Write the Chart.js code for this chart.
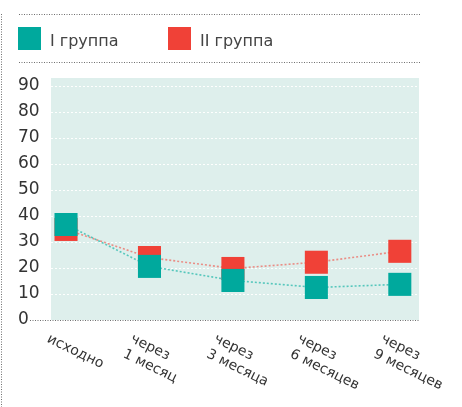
<!DOCTYPE html>
<html>
<head>
<meta charset="utf-8">
<script src="https://cdn.jsdelivr.net/npm/chart.js@4"></script>
<style>
  html, body { margin: 0; padding: 0; background: #fff; }
  #wrap { width: 462px; height: 407px; position: relative; }
</style>
</head>
<body>
<div id="wrap"><canvas id="c" width="462" height="407"></canvas></div>
<script>
const categories = [["исходно"], ["через", "1 месяц"], ["через", "3 месяца"], ["через", "6 месяцев"], ["через", "9 месяцев"]];
const seriesNames = ["I группа", "II группа"];
const group1 = [36.7, 20.6, 15.2, 12.5, 13.7];
const group2 = [34.8, 24.0, 19.8, 22.2, 26.4];
const yTicks = [0, 10, 20, 30, 40, 50, 60, 70, 80, 90];

const markerColors = ["#00a99d", "#f04137"];
const lineColors = ["rgba(40,185,172,0.75)", "rgba(240,100,90,0.7)"];
const FONT = "'DejaVu Sans', 'Liberation Sans', sans-serif";

const decor = {
  id: 'decor',
  beforeDraw(chart) {
    const ctx = chart.ctx, a = chart.chartArea;
    ctx.save();
    ctx.fillStyle = '#deefec';
    ctx.fillRect(a.left, a.top, a.right - a.left, a.bottom - a.top);
    ctx.restore();
  },
  beforeDatasetsDraw(chart) {
    const ctx = chart.ctx, a = chart.chartArea, ys = chart.scales.y;
    ctx.save();
    ctx.strokeStyle = 'rgba(255,255,255,0.95)';
    ctx.lineWidth = 1;
    ctx.setLineDash([2, 2]);
    ctx.beginPath();
    yTicks.forEach(v => {
      if (v === 0) return;
      const y = Math.round(ys.getPixelForValue(v)) + 0.5;
      ctx.moveTo(a.left, y); ctx.lineTo(a.right, y);
    });
    ctx.stroke();
    ctx.restore();
  },
  afterDraw(chart) {
    const ctx = chart.ctx, a = chart.chartArea;
    ctx.save();
    ctx.strokeStyle = '#6f6f6f';
    ctx.lineWidth = 1;
    ctx.setLineDash([1, 1.5]);
    ctx.beginPath();
    ctx.moveTo(19, 14.5); ctx.lineTo(421, 14.5);
    ctx.moveTo(19, 62.5); ctx.lineTo(421, 62.5);
    ctx.moveTo(30, Math.round(a.bottom) + 0.5); ctx.lineTo(a.right, Math.round(a.bottom) + 0.5);
    ctx.moveTo(1.5, 14); ctx.lineTo(1.5, 407);
    ctx.stroke();
    ctx.setLineDash([]);

    // legend
    const lx = [18, 168];
    ctx.font = "16px " + FONT;
    ctx.textBaseline = 'middle';
    ctx.textAlign = 'left';
    chart.data.datasets.forEach((ds, i) => {
      ctx.fillStyle = ds.pointBackgroundColor;
      ctx.fillRect(lx[i], 27, 23, 23);
      ctx.fillStyle = '#444';
      ctx.fillText(ds.label, lx[i] + 32, 42);
    });

    // x labels (rotated clockwise)
    const xs = chart.scales.x;
    ctx.font = "14px " + FONT;
    ctx.fillStyle = '#333';
    ctx.textBaseline = 'top';
    const ang = 26 * Math.PI / 180;
    categories.forEach((lines, i) => {
      const px = xs.getPixelForValue(i);
      ctx.save();
      ctx.translate(px - 15, a.bottom + 12);
      ctx.rotate(ang);
      lines.forEach((t, j) => ctx.fillText(t, 0, j * 17));
      ctx.restore();
    });
    ctx.restore();
  }
};

new Chart(document.getElementById('c'), {
  type: 'line',
  data: {
    datasets: [
      {
        label: seriesNames[0],
        data: group1.map((v, i) => ({x: i, y: v})),
        borderColor: lineColors[0],
        borderWidth: 1.6,
        borderDash: [2, 2],
        pointStyle: 'rect',
        pointRadius: 16.3,
        pointBorderWidth: 0,
        pointBackgroundColor: markerColors[0],
        tension: 0
      },
      {
        label: seriesNames[1],
        data: group2.map((v, i) => ({x: i, y: v})),
        borderColor: lineColors[1],
        borderWidth: 1.6,
        borderDash: [2, 2],
        pointStyle: 'rect',
        pointRadius: 16.3,
        pointBorderWidth: 0,
        pointBackgroundColor: markerColors[1],
        tension: 0
      }
    ]
  },
  options: {
    responsive: false,
    animation: false,
    events: [],
    layout: { padding: { left: 18, right: 43, top: 78, bottom: 79 } },
    plugins: { legend: { display: false }, tooltip: { enabled: false } },
    scales: {
      x: {
        type: 'linear',
        min: -0.18,
        max: 4.23,
        ticks: { display: false },
        grid: { display: false },
        border: { display: false }
      },
      y: {
        min: 0,
        max: 93,
        afterBuildTicks(scale) { scale.ticks = yTicks.map(v => ({value: v})); },
        afterFit(scale) { scale.width = 33; },
        ticks: {
          crossAlign: 'far',
          padding: 4,
          color: '#333',
          font: { family: FONT, size: 17 }
        },
        grid: { display: false, drawTicks: false },
        border: { display: false }
      }
    }
  },
  plugins: [decor]
});
</script>
</body>
</html>
